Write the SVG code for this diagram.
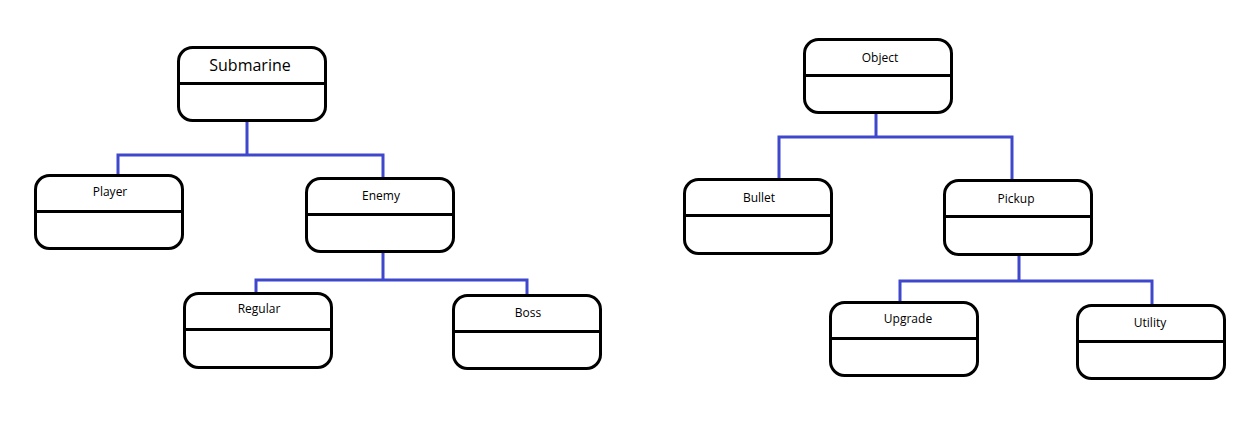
<svg xmlns="http://www.w3.org/2000/svg" width="1258" height="435" viewBox="0 0 1258 435">
<style>
.box{fill:#fff;stroke:#000;stroke-width:3}
.div{stroke:#000;stroke-width:3}
.lbl{font-family:"Open Sans","Noto Sans",sans-serif;font-size:12px;fill:#000;text-anchor:middle}
.big{font-size:16px}
.con{fill:none;stroke:#3f48cc;stroke-width:3}
</style>
<rect width="1258" height="435" fill="#fff"/>
<g id="connectors">
<path class="con" d="M247 122 V155 M118 174 V155 H383 V177"/>
<path class="con" d="M383 253 V280 M256 292 V280 H527 V294"/>
<path class="con" d="M876 114 V137 M779 178 V137 H1012 V179"/>
<path class="con" d="M1019 256 V281 M900 301 V281 H1152 V304"/>
</g>
<g id="submarine">
<rect class="box" x="178.5" y="47.5" width="147" height="73" rx="14"/>
<line class="div" x1="178.5" y1="83.5" x2="325.5" y2="83.5"/>
<text class="lbl big" x="250" y="71">Submarine</text>
</g>
<g id="player">
<rect class="box" x="35.5" y="175.5" width="147" height="73" rx="14"/>
<line class="div" x1="35.5" y1="211.5" x2="182.5" y2="211.5"/>
<text class="lbl" x="110" y="196">Player</text>
</g>
<g id="enemy">
<rect class="box" x="306.5" y="178.5" width="147" height="73" rx="14"/>
<line class="div" x1="306.5" y1="214.5" x2="453.5" y2="214.5"/>
<text class="lbl" x="381" y="200">Enemy</text>
</g>
<g id="regular">
<rect class="box" x="184.5" y="293.5" width="147" height="74" rx="14"/>
<line class="div" x1="184.5" y1="329.5" x2="331.5" y2="329.5"/>
<text class="lbl" x="259" y="313">Regular</text>
</g>
<g id="boss">
<rect class="box" x="453.5" y="295.5" width="147" height="73" rx="14"/>
<line class="div" x1="453.5" y1="331.5" x2="600.5" y2="331.5"/>
<text class="lbl" x="528" y="317">Boss</text>
</g>
<g id="object">
<rect class="box" x="804.5" y="39.5" width="147" height="73" rx="14"/>
<line class="div" x1="804.5" y1="75.5" x2="951.5" y2="75.5"/>
<text class="lbl" x="880" y="62">Object</text>
</g>
<g id="bullet">
<rect class="box" x="684.5" y="179.5" width="147" height="74" rx="14"/>
<line class="div" x1="684.5" y1="215.5" x2="831.5" y2="215.5"/>
<text class="lbl" x="759" y="202">Bullet</text>
</g>
<g id="pickup">
<rect class="box" x="944.5" y="180.5" width="147" height="74" rx="14"/>
<line class="div" x1="944.5" y1="216.5" x2="1091.5" y2="216.5"/>
<text class="lbl" x="1016" y="203">Pickup</text>
</g>
<g id="upgrade">
<rect class="box" x="830.5" y="302.5" width="147" height="73" rx="14"/>
<line class="div" x1="830.5" y1="338.5" x2="977.5" y2="338.5"/>
<text class="lbl" x="908" y="323">Upgrade</text>
</g>
<g id="utility">
<rect class="box" x="1077.5" y="305.5" width="147" height="73" rx="14"/>
<line class="div" x1="1077.5" y1="341.5" x2="1224.5" y2="341.5"/>
<text class="lbl" x="1150" y="327">Utility</text>
</g>
</svg>
